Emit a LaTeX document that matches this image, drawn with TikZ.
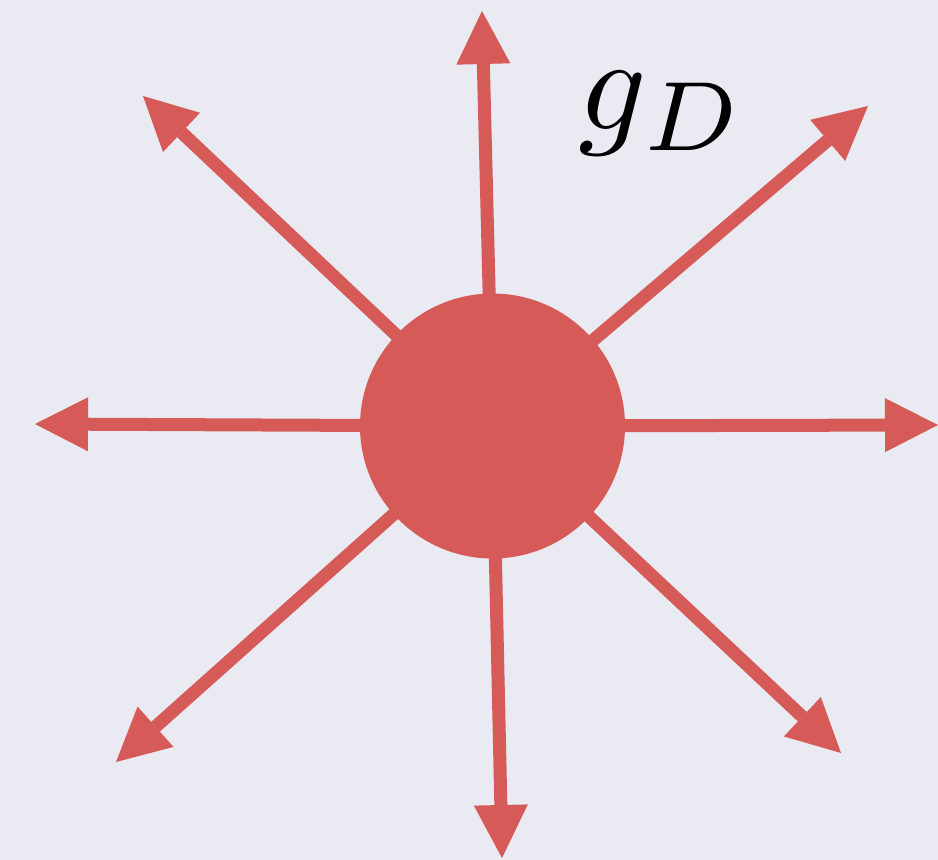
\documentclass[tikz,border=0pt]{standalone}
\usetikzlibrary{arrows.meta}
\definecolor{bgc}{HTML}{EAEAF2}
\definecolor{redc}{HTML}{D65A57}
\begin{document}
\begin{tikzpicture}[x=1pt,y=-1pt,
  ray/.style={draw=redc,line width=13pt,-{Triangle[length=53pt,width=54pt,line width=0pt]}},
  blob/.style={circle,fill=redc,draw=none,minimum size=265pt,inner sep=0pt}]
\fill[bgc] (0,0) rectangle (938,860);
\useasboundingbox (0,0) rectangle (938,860);
\coordinate (o) at (492.5,426);
\coordinate (tN) at (482,11);
\coordinate (tNE) at (868,106);
\coordinate (tE) at (938,425);
\coordinate (tSE) at (841,753);
\coordinate (tS) at (502,858);
\coordinate (tSW) at (116,762);
\coordinate (tW) at (35,424);
\coordinate (tNW) at (143,96);
\foreach \t in {tN,tNE,tE,tSE,tS,tSW,tW,tNW} \draw[ray] (o) -- (\t);
\node[blob] (c) at (o) {};
\node[inner sep=0pt,scale=13.4] (lbl) at (662,114) {$g_{\kern0.1pt\scalebox{1.05}{$\scriptstyle D$}}$};
\end{tikzpicture}
\end{document}
